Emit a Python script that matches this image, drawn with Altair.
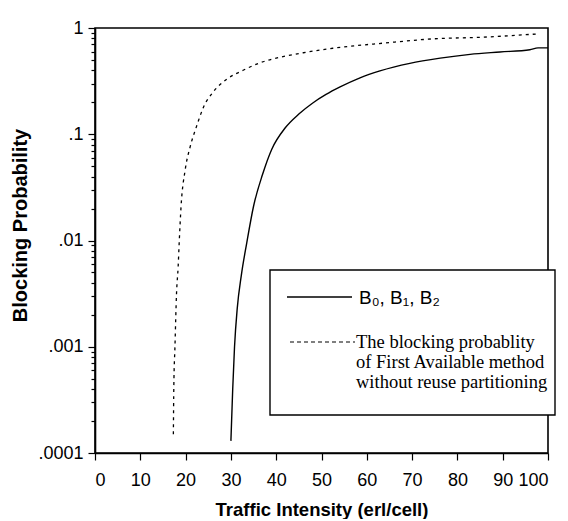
import altair as alt
import pandas as pd

# Solid curve: B0, B1, B2
b_x = [30.0, 30.4, 30.8, 31.4, 32.3, 33.5, 35.0, 37.0, 39.0, 42.0, 45.0, 48.0,
       51.0, 54.1, 58.5, 62.9, 69.5, 76.2, 82.8, 89.4, 96.0, 97.8, 100.0]
b_y = [1.3e-4, 4.0e-4, 1.0e-3, 2.3e-3, 4.7e-3, 0.0095, 0.021, 0.042, 0.072, 0.115,
       0.155, 0.196, 0.237, 0.279, 0.340, 0.395, 0.465, 0.52, 0.565, 0.595, 0.625, 0.65, 0.65]

# Dashed curve: First Available without reuse partitioning
fa_x = [17.3, 17.4, 17.65, 18.0, 18.35, 18.6, 19.0, 19.9, 21.0, 22.4, 23.9, 26.1,
        29.1, 32.7, 36.4, 40.8, 46.0, 52.5, 63.6, 74.6, 85.7, 97.8]
fa_y = [1.5e-4, 4.2e-4, 1.0e-3, 3.2e-3, 5.6e-3, 0.0098, 0.021, 0.046, 0.076, 0.118,
        0.178, 0.25, 0.33, 0.40, 0.47, 0.53, 0.585, 0.645, 0.72, 0.79, 0.82, 0.88]

x_ticks = list(range(0, 101, 5))
y_major = [0.0001, 0.001, 0.01, 0.1, 1]
y_major_labels = [".0001", ".001", ".01", ".1", "1"]
y_ticks = [m * d for d in [0.0001, 0.001, 0.01, 0.1] for m in range(2, 10)] + y_major

legend_b = "B₀, B₁, B₂"
legend_fa = "The blocking probablity\nof First Available method\nwithout reuse partitioning"

df_b = pd.DataFrame({"x": b_x, "y": b_y})
df_fa = pd.DataFrame({"x": fa_x, "y": fa_y})
one = pd.DataFrame({"k": [0]})

label_expr_y = " : ".join(
    f"datum.value == {v} ? '{s}'" for v, s in zip(y_major, y_major_labels)
) + " : ''"

x_enc = alt.X(
    "x:Q",
    scale=alt.Scale(domain=[0, 100], nice=False, zero=False),
    axis=alt.Axis(
        values=x_ticks,
        labelExpr="datum.value % 10 == 0 ? datum.label : ''",
        tickSize={"condition": {"test": "datum.value % 10 == 0", "value": 7}, "value": 4},
        labelPadding=11,
        title="Traffic Intensity (erl/cell)",
        titleFontSize=18.5,
        titleBaseline="middle",
        titleY=56,
    ),
)
y_enc = alt.Y(
    "y:Q",
    scale=alt.Scale(type="log", domain=[0.0001, 1], nice=False),
    axis=alt.Axis(
        values=y_ticks,
        labelExpr=label_expr_y,
        tickSize={"condition": {
            "test": "abs(log(datum.value)/LN10 - round(log(datum.value)/LN10)) < 0.000001",
            "value": 7}, "value": 4},
        labelPadding=5,
        labelOverlap=False,
        title="Blocking Probability",
        titleFontSize=20,
        titleAngle=-90,
        titleAlign="center",
        titleBaseline="middle",
        titleX=-75,
        titleY=197,
    ),
)

line_b = alt.Chart(df_b).mark_line(color="black", strokeWidth=1.4, interpolate="monotone").encode(
    x=x_enc, y=y_enc
)
line_fa = alt.Chart(df_fa).mark_line(
    color="black", strokeWidth=1.3, strokeDash=[3, 4], interpolate="monotone"
).encode(x="x:Q", y="y:Q")

box = alt.Chart(one).mark_rect(fill="white", stroke="black", strokeWidth=1.4).encode(
    x=alt.value(175), x2=alt.value(460), y=alt.value(242), y2=alt.value(387)
)
leg_line_b = alt.Chart(one).mark_rule(color="black", strokeWidth=1.3).encode(
    x=alt.value(192), x2=alt.value(257), y=alt.value(269)
)
leg_line_fa = alt.Chart(one).mark_rule(color="black", strokeWidth=1.1, strokeDash=[4, 3]).encode(
    x=alt.value(195), x2=alt.value(260), y=alt.value(314)
)
leg_text_b = alt.Chart(one).mark_text(
    align="left", baseline="middle", font="Liberation Sans", fontSize=19, color="black"
).encode(x=alt.value(264), y=alt.value(270), text=alt.value(legend_b))
leg_text_fa = alt.Chart(one).mark_text(
    align="left", baseline="top", font="Liberation Serif", fontSize=18.5, color="black",
    lineBreak="\n", lineHeight=20,
).encode(x=alt.value(261), y=alt.value(305), text=alt.value(legend_fa))

chart = alt.layer(
    line_b, line_fa, box, leg_line_b, leg_line_fa, leg_text_b, leg_text_fa
).properties(
    width=453,
    height=425,
    autosize=alt.AutoSizeParams(type="none"),
    padding={"left": 87, "top": 20, "right": 12, "bottom": 66},
    background="white",
).configure_view(
    stroke="black", strokeWidth=1.6
).configure_axis(
    grid=False,
    domainColor="black",
    domainWidth=1.6,
    tickColor="black",
    tickWidth=1.2,
    labelFont="Liberation Sans",
    labelFontSize=18,
    labelColor="black",
    titleFont="Liberation Sans",
    titleFontSize=18,
    titleFontWeight="bold",
    titleColor="black",
)

chart.save("out.html", embed_options={"renderer": "svg", "actions": False})
